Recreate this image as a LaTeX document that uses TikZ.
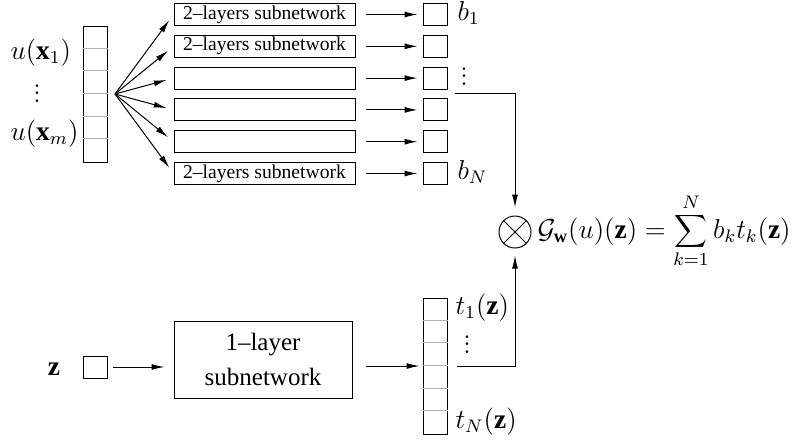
\documentclass[tikz,border=0pt]{standalone}
\usepackage{fontspec}
\setmainfont{Liberation Serif}
\usetikzlibrary{arrows.meta}
\newcommand{\dotcol}{\vbox{\baselineskip=3.2pt\lineskiplimit=-10pt\hbox{$.$}\hbox{$.$}\hbox{$.$}}}
\begin{document}
\begin{tikzpicture}[x=0.5pt,y=-0.5pt,line width=0.5pt,
  every node/.style={font=\fontsize{12.5}{15}\selectfont},
  mth/.style={font=\fontsize{12}{14}\selectfont, scale=1.14},
  cell/.style={draw, minimum width=12pt, minimum height=11pt, inner sep=0pt},
  sub/.style={draw, minimum width=90.5pt, minimum height=11pt, inner sep=0pt, font=\fontsize{9.8}{11}\selectfont},
  col/.style={draw, minimum width=12pt, minimum height=68pt, inner sep=0pt},
  arr/.style={-{Latex[length=6.5pt,width=3pt]}},
  sep/.style={draw=black!30},
  lbl/.style={mth, anchor=west, inner sep=0pt},
  dts/.style={mth, anchor=base, inner sep=0pt}]
\useasboundingbox (0,0) rectangle (803,441);

% input column
\node[col] (ucol) at (95,94) {};
\foreach \i in {1,...,5}
  \draw[sep] ([yshift=-\i*11.333pt]ucol.north west) -- ([yshift=-\i*11.333pt]ucol.north east);
\node[lbl] (ux1) at (10,52.5) {$u(\mathbf{x}_1)$};
\node[dts] (udots) at (37,102) {\dotcol};
\node[lbl] (uxm) at (10,134) {$u(\mathbf{x}_m)$};

\coordinate (fan) at (115,94);

% subnetworks
\node[sub] (s1) at (264.5,14.5) {2--layers subnetwork};
\node[sub] (s2) at (264.5,46.3) {2--layers subnetwork};
\node[sub] (s3) at (264.5,78.1) {};
\node[sub] (s4) at (264.5,109.9) {};
\node[sub] (s5) at (264.5,141.7) {};
\node[sub] (s6) at (264.5,173.5) {2--layers subnetwork};

\foreach \i/\y in {1/14.5,2/46.3,3/78.1,4/109.9,5/141.7,6/173.5}{
  \node[cell] (b\i) at (435,\y) {};
  \draw[arr, shorten >=3.5pt] (fan) -- (s\i.west);
  \draw[arr, shorten <=5pt, shorten >=2.5pt] (s\i.east) -- (b\i.west);
}

\node[lbl] (lb1) at (457,13) {$b_1$};
\node[dts] (bdots) at (464,85) {\dotcol};
\node[lbl] (lbN) at (457,172) {$b_N$};

% product
\node[draw, circle, minimum size=16pt, inner sep=0pt] (ot) at (515,232) {};
\draw (ot.north east) -- (ot.south west);
\draw (ot.north west) -- (ot.south east);

\coordinate (tstart) at (455,93);
\draw[arr, shorten >=4pt] (tstart) -- (tstart -| ot) -- (ot.north);

\node[mth, anchor=base west, inner sep=0pt] (formula) at (537,238)
  {$\displaystyle \mathcal{G}_{\mathbf{w}}(u)(\mathbf{z}) = \sum_{k=1}^{N} b_k t_k(\mathbf{z})$};

% bottom branch
\node[dts] (zl) at (54,375) {$\mathbf{z}$};
\node[cell] (zsq) at (95,367) {};
\node[draw, minimum width=89pt, minimum height=38.5pt, inner sep=0pt, align=center,
      font=\fontsize{12.5}{17.5}\selectfont] (lbox) at (263,359.5) {1--layer\\subnetwork};
\draw[arr, shorten <=2.5pt, shorten >=4.5pt] (zsq.east) -- (zsq.east -| lbox.west);

\node[col] (tcol) at (435,366) {};
\foreach \i in {1,...,5}
  \draw[sep] ([yshift=-\i*11.333pt]tcol.north west) -- ([yshift=-\i*11.333pt]tcol.north east);
\draw[arr, shorten <=6.5pt, shorten >=1.5pt] (lbox.east |- tcol.west) -- (tcol.west);

\node[lbl] (lt1) at (455,308) {$t_1(\mathbf{z})$};
\node[dts] (tdots) at (467,353) {\dotcol};
\node[lbl] (ltN) at (455,422) {$t_N(\mathbf{z})$};

\draw[arr, shorten <=4.5pt, shorten >=3.5pt] (tcol.east) -- (tcol.east -| ot) -- (ot.south);
\end{tikzpicture}
\end{document}
